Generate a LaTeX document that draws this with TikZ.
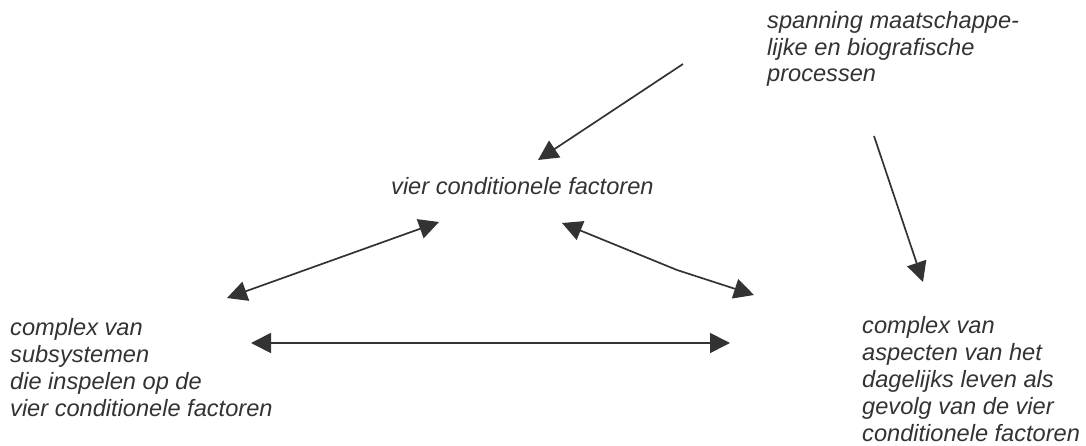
\documentclass[tikz,border=0pt]{standalone}
\usepackage{fontspec}
\setmainfont{Liberation Sans}
\usetikzlibrary{arrows.meta}
\definecolor{ink}{HTML}{333333}
\tikzset{
  lbl/.style={anchor=base west, inner sep=0pt, align=left, text=ink,
    font=\itshape\fontsize{23.6}{26.9}\selectfont},
  conn/.style={draw=ink, line width=1.7pt,
    arrows={-Triangle[length=20pt,width=20pt]}},
  biconn/.style={draw=ink, line width=1.7pt,
    arrows={Triangle[length=20pt,width=20pt]-Triangle[length=20pt,width=20pt]}}
}
\begin{document}
\begin{tikzpicture}[x=1pt,y=-1pt]
\useasboundingbox (0,0) rectangle (1086,446);
% base anchor of a multi-line node lies on its last line
\node[lbl] (top) at (767,82) {spanning maatschappe-\\lijke en biografische\\processen};
\node[lbl] (mid) at (391,195) {vier conditionele factoren};
\node[lbl] (left) at (10,416) {complex van\\subsystemen\\die inspelen op de\\vier conditionele factoren};
\node[lbl] (right) at (862,441) {complex van\\aspecten van het\\dagelijks leven als\\gevolg van de vier\\conditionele factoren};
% connector end points
\coordinate (a1s) at (683,64);
\coordinate (a1e) at (538,160);
\coordinate (a2s) at (874,136);
\coordinate (a2e) at (923,282);
\coordinate (a3s) at (227,298);
\coordinate (a3e) at (439,222);
\coordinate (a4s) at (562,223);
\coordinate (a4k) at (677,270);
\coordinate (a4e) at (754,295);
\coordinate (a5s) at (251,343);
\coordinate (a5e) at (730,343);
\draw[conn] (a1s) -- (a1e);
\draw[conn] (a2s) -- (a2e);
\draw[biconn] (a3s) -- (a3e);
\draw[biconn] (a4s) -- (a4k) -- (a4e);
\draw[biconn] (a5s) -- (a5e);
\end{tikzpicture}
\end{document}
